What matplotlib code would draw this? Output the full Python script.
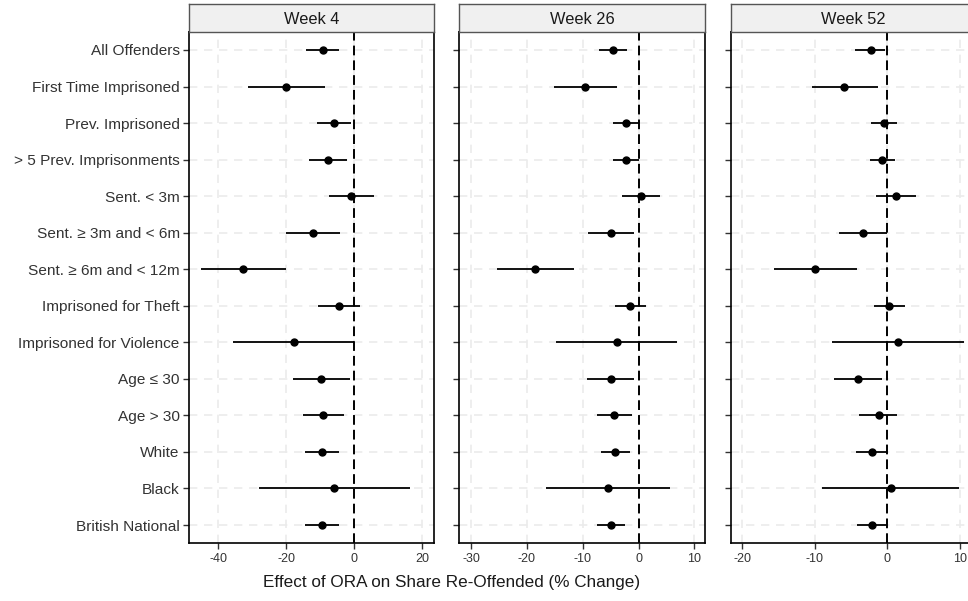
#!/usr/bin/env python
#-*- coding: utf-8 -*-
import matplotlib
matplotlib.use('Agg')
import matplotlib.pyplot as plt

# subgroup labels, top to bottom
categories=['All Offenders', 'First Time Imprisoned', 'Prev. Imprisoned', '> 5 Prev. Imprisonments',
            'Sent. < 3m', 'Sent. \u2265 3m and < 6m', 'Sent. \u2265 6m and < 12m', 'Imprisoned for Theft',
            'Imprisoned for Violence', 'Age \u2264 30', 'Age > 30', 'White', 'Black', 'British National']
panels=['Week 4', 'Week 26', 'Week 52']

# point estimates and 95% CI (% change)
week4_est=[-9.2, -20.1, -6.1, -7.7, -0.9, -12.1, -32.7, -4.5, -17.8, -9.7, -9.1, -9.5, -5.9, -9.5]
week4_lo=[-14.1, -31.4, -11.1, -13.4, -7.4, -20.1, -45.2, -10.8, -35.8, -18.0, -15.1, -14.6, -28.0, -14.4]
week4_hi=[-4.5, -8.7, -1.1, -2.2, 5.7, -4.1, -20.2, 1.6, 0.0, -1.4, -3.2, -4.4, 16.2, -4.5]

week26_est=[-4.6, -9.6, -2.3, -2.2, 0.4, -4.9, -18.5, -1.5, -3.9, -5.0, -4.4, -4.2, -5.4, -4.9]
week26_lo=[-7.0, -15.2, -4.6, -4.6, -3.0, -9.0, -25.4, -4.2, -14.7, -9.2, -7.5, -6.8, -16.5, -7.4]
week26_hi=[-2.1, -3.9, 0.0, 0.0, 3.8, -0.8, -11.6, 1.3, 6.9, -0.8, -1.2, -1.5, 5.7, -2.4]

week52_est=[-2.3, -5.9, -0.5, -0.7, 1.2, -3.4, -9.9, 0.3, 1.5, -4.0, -1.2, -2.1, 0.5, -2.1]
week52_lo=[-4.4, -10.4, -2.3, -2.4, -1.6, -6.7, -15.6, -1.8, -7.6, -7.4, -3.9, -4.3, -9.0, -4.2]
week52_hi=[-0.3, -1.3, 1.4, 1.0, 3.9, 0.0, -4.2, 2.5, 10.6, -0.7, 1.4, 0.0, 9.9, 0.0]

xticks={'Week 4':[-40, -20, 0, 20], 'Week 26':[-30, -20, -10, 0, 10], 'Week 52':[-20, -10, 0, 10]}
xlims={'Week 4':[-48.7, 23.5], 'Week 26':[-32.1, 11.9], 'Week 52':[-21.6, 12.3]}

def drawForest():
    plt.rcParams['font.family']=['Liberation Sans', 'DejaVu Sans']
    plt.rcParams['axes.unicode_minus']=False
    data={'Week 4':(week4_est, week4_lo, week4_hi),
          'Week 26':(week26_est, week26_lo, week26_hi),
          'Week 52':(week52_est, week52_lo, week52_hi)}
    W, H=968., 601.
    fig=plt.figure(figsize=(W/100., H/100.), dpi=100)
    lefts=[188.7, 459.3, 730.7]
    pw=245.7
    ptop, pbot, stop=31.7, 543.3, 4.
    ypos=list(range(1, len(categories)+1))
    for ith, name in enumerate(panels):
        ax=fig.add_axes([lefts[ith]/W, (H-pbot)/H, pw/W, (pbot-ptop)/H])
        est, lo, hi=data[name]
        ax.axvline(0, color='black', lw=1.4, ls=(0, (5, 2.6)), zorder=2)
        ax.hlines(ypos, lo, hi, color='black', lw=1.3, zorder=3)
        ax.plot(est, ypos, 'o', color='black', ms=5, zorder=4)
        ax.set_xlim(xlims[name])
        ax.set_ylim(len(categories)+0.5, 0.5)
        ax.set_xticks(xticks[name])
        ax.set_yticks(ypos)
        if ith==0:
            ax.set_yticklabels(categories, fontsize=11.1, color='#1a1a1a')
        else:
            ax.set_yticklabels([])
        ax.tick_params(axis='x', labelsize=9, colors='#333333', length=4, width=1, pad=3)
        ax.tick_params(axis='y', colors='#333333', length=4.5, width=1, pad=2)
        ax.grid(True, color='#ebebeb', lw=1.2, ls=(0, (5, 4)), zorder=0)
        ax.set_axisbelow(True)
        for sp in ax.spines.values():
            sp.set_color('black')
            sp.set_linewidth(1.2)
        # facet strip
        sax=fig.add_axes([lefts[ith]/W, (H-ptop)/H, pw/W, (ptop-stop)/H])
        sax.set_facecolor('#f0f0f0')
        sax.set_xticks([])
        sax.set_yticks([])
        for sp in sax.spines.values():
            sp.set_color('#555555')
            sp.set_linewidth(1.0)
        sax.text(0.5, 0.45, name, ha='center', va='center', fontsize=11.8, color='#1a1a1a', transform=sax.transAxes)

    fig.text(452./W, (H-582.)/H, 'Effect of ORA on Share Re-Offended (% Change)', ha='center', va='center', fontsize=12.3, color='#1a1a1a')
    fig.savefig('out.png', dpi=100)
    return

if __name__ == "__main__":
    drawForest()
